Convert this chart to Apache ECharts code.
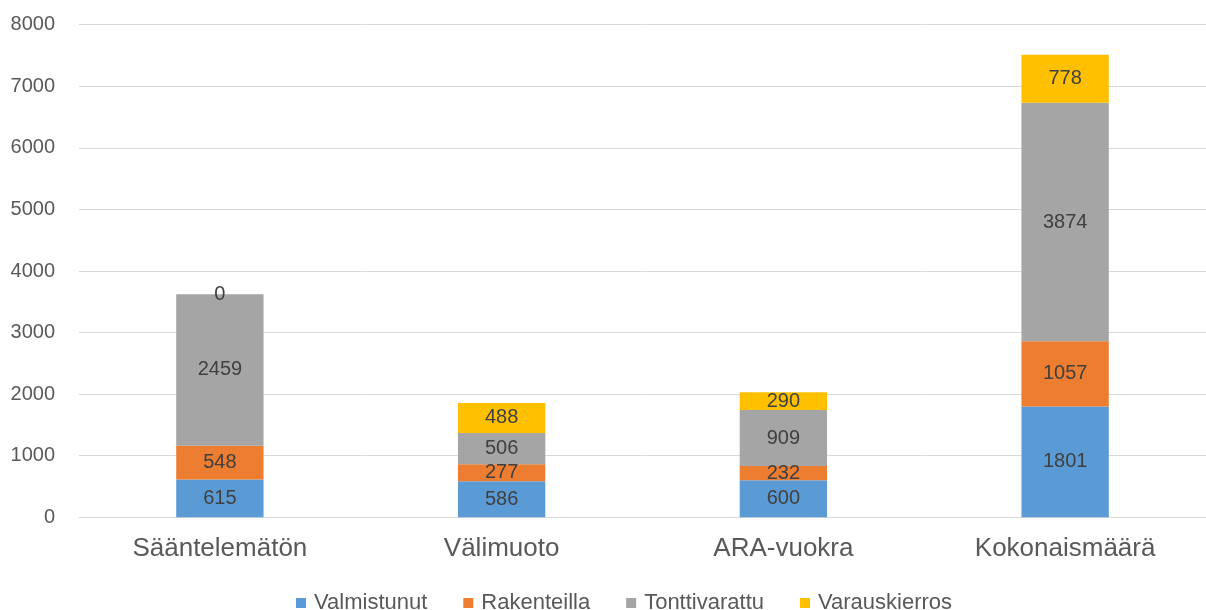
<!DOCTYPE html>
<html>
<head>
<meta charset="utf-8">
<script src="https://cdn.jsdelivr.net/npm/echarts@6/dist/echarts.min.js"></script>
<style>
html,body{margin:0;padding:0;background:#fff;}
#c{width:1206px;height:610px;}
</style>
</head>
<body>
<div id="c"></div>
<script>
const categories = ['Sääntelemätön', 'Välimuoto', 'ARA-vuokra', 'Kokonaismäärä'];
const seriesNames = ['Valmistunut', 'Rakenteilla', 'Tonttivarattu', 'Varauskierros'];
const valmistunut = [615, 586, 600, 1801];
const rakenteilla = [548, 277, 232, 1057];
const tonttivarattu = [2459, 506, 909, 3874];
const varauskierros = [0, 488, 290, 778];
const yTicks = [0, 1000, 2000, 3000, 4000, 5000, 6000, 7000, 8000];
const colors = ['#5B9BD5', '#ED7D31', '#A5A5A5', '#FFC000'];

const seriesData = [valmistunut, rakenteilla, tonttivarattu, varauskierros];
const FONT = 'Liberation Sans';

const chart = echarts.init(document.getElementById('c'), null, {renderer: 'canvas'});
chart.setOption({
  animation: false,
  backgroundColor: '#ffffff',
  color: colors,
  grid: {left: 79, right: -13, top: 24.7, bottom: 92.7, containLabel: false},
  legend: {
    data: seriesNames,
    top: 587,
    left: 291,
    itemWidth: 10,
    itemHeight: 10,
    itemGap: 36,
    icon: 'rect',
    textStyle: {color: '#595959', fontSize: 22, fontFamily: FONT, padding: [0, 0, 0, 3]}
  },
  xAxis: {
    type: 'category',
    data: categories,
    axisLine: {lineStyle: {color: '#d9d9d9', width: 1}},
    axisTick: {show: false},
    axisLabel: {color: '#595959', fontSize: 26, fontFamily: FONT, margin: 19}
  },
  yAxis: {
    type: 'value',
    min: yTicks[0],
    max: yTicks[yTicks.length - 1],
    interval: yTicks[1] - yTicks[0],
    axisLine: {show: false},
    axisTick: {show: false},
    splitLine: {lineStyle: {color: '#d9d9d9', width: 1}},
    axisLabel: {color: '#595959', fontSize: 20, fontFamily: FONT, margin: 24, formatter: v => String(v)}
  },
  series: seriesNames.map((name, i) => ({
    name: name,
    type: 'bar',
    stack: 'total',
    barWidth: '31%',
    data: seriesData[i],
    itemStyle: {color: colors[i]},
    label: {
      show: true,
      position: 'inside',
      color: '#404040',
      fontSize: 20,
      fontFamily: FONT
    }
  }))
});
</script>
</body>
</html>
